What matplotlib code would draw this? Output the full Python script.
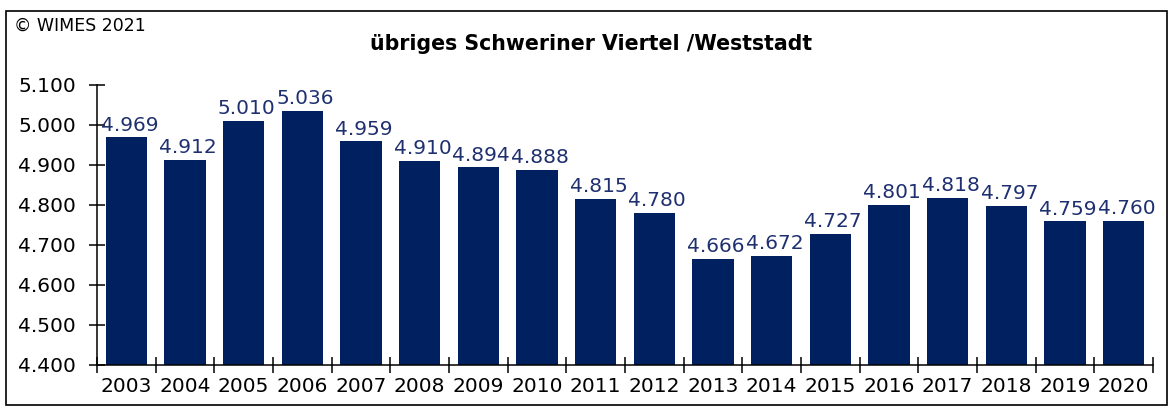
import matplotlib
matplotlib.use("Agg")
import matplotlib.pyplot as plt
import numpy as np
from matplotlib.patches import Rectangle

years = [str(y) for y in range(2003, 2021)]
values = [4969, 4912, 5010, 5036, 4959, 4910, 4894, 4888, 4815, 4780,
          4666, 4672, 4727, 4801, 4818, 4797, 4759, 4760]
yticks = [4400, 4500, 4600, 4700, 4800, 4900, 5000, 5100]

bar_color = "#002060"
label_color = "#1f3070"

plt.rcParams["font.family"] = ["DejaVu Sans"]

fig = plt.figure(figsize=(11.73, 4.12), dpi=100)
ax = fig.add_axes([97 / 1173, 1 - 365 / 412, (1153 - 97) / 1173, (365 - 85) / 412])

x = np.arange(len(years))
ax.bar(x, values, width=0.7, color=bar_color, zorder=2)
for xi, v in zip(x, values):
    ax.text(xi + 0.05, v + 7, f"{v/1000:.3f}", ha="center", va="bottom",
            fontsize=14.5, color=label_color)

ax.set_xlim(-0.5, len(years) - 0.5)
ax.set_ylim(4400, 5100)
ax.set_yticks(yticks)
ax.set_yticklabels([f"{t/1000:.3f}" for t in yticks], fontsize=14.5)
ax.set_xticks(x)
ax.set_xticklabels(years, fontsize=14.5)
ax.tick_params(axis="x", which="major", length=0, pad=9)
ax.set_xticks(np.arange(-0.5, len(years)), minor=True)
ax.tick_params(axis="x", which="minor", length=12, direction="inout", width=1.1)
ax.tick_params(axis="y", length=12, direction="inout", width=1.1, pad=9)

for s in ["top", "right"]:
    ax.spines[s].set_visible(False)
for s in ["left", "bottom"]:
    ax.spines[s].set_linewidth(1.1)

fig.text(591 / 1173, 1 - 44 / 412, "übriges Schweriner Viertel /Weststadt",
         ha="center", va="center", fontsize=14.8, fontweight="bold")
fig.text(14 / 1173, 1 - 26 / 412, "© WIMES 2021", ha="left", va="center", fontsize=12.5)

fig.patches.append(Rectangle((6 / 1173, 1 - 405 / 412), (1167 - 6) / 1173, (405 - 11) / 412,
                             transform=fig.transFigure, fill=False, edgecolor="black",
                             linewidth=1.2))

fig.savefig("out.png", dpi=100)
